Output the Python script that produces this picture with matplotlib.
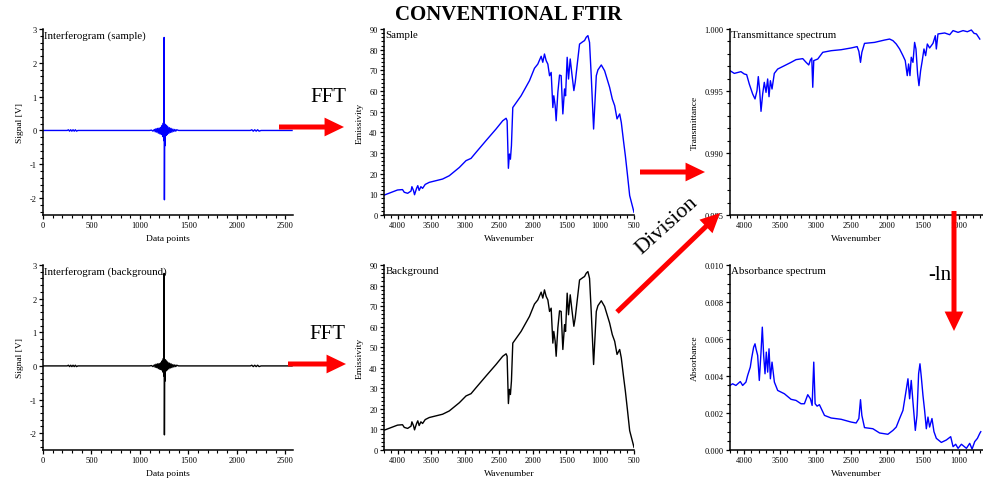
# Conventional FTIR processing chain figure
# interferogram -> FFT -> single beam spectra -> division -> transmittance -> -ln -> absorbance

import matplotlib
matplotlib.use("Agg")
import matplotlib.pyplot as plt
from matplotlib.patches import FancyArrowPatch
from matplotlib.ticker import MultipleLocator, FormatStrFormatter

plt.rcParams["font.family"] = ["Liberation Serif", "DejaVu Serif"]
plt.rcParams["axes.unicode_minus"] = False

# interferogram (same shape for sample and background)
igram_x = [0, 250, 262, 274, 286, 298, 310, 322, 334, 346, 360, 1100, 1120, 1135,
           1150, 1158, 1166, 1174, 1182, 1190, 1198, 1206, 1214, 1222, 1230, 1236,
           1242, 1246, 1250, 1253, 1256, 1260, 1264, 1270, 1276, 1282, 1290, 1298,
           1306, 1314, 1322, 1330, 1340, 1350, 1360, 1370, 1380, 1400, 2140, 2155,
           2170, 2185, 2200, 2215, 2230, 2250, 2570]
igram_y = [0.0, 0.0, 0.02, -0.02, 0.02, -0.02, 0.02, -0.02, 0.02, -0.02, 0.0, 0.0, 0.01, -0.02,
           0.03, -0.04, 0.05, -0.05, 0.06, -0.08, 0.07, -0.10, 0.09, -0.12, 0.15, -0.18,
           0.22, -0.30, 2.75, -2.05, 0.10, -0.45, 0.18, -0.15, 0.14, -0.12, 0.10, -0.09,
           0.08, -0.06, 0.06, -0.05, 0.04, -0.03, 0.03, -0.02, 0.02, 0.0, 0.0, 0.02,
           -0.02, 0.02, -0.02, 0.02, -0.02, 0.0, 0.0]

# single beam emission spectrum (sample and background look the same)
emis_wn = [4200, 4000, 3926, 3900, 3850, 3800, 3787, 3763, 3748, 3718, 3700, 3680, 3654,
           3629, 3590, 3530, 3333, 3234, 3085, 2986, 2912, 2838, 2690, 2542, 2443, 2393,
           2378, 2359, 2344, 2329, 2314, 2294, 2171, 2047, 1973, 1924, 1874, 1850, 1825,
           1800, 1775, 1750, 1726, 1701, 1687, 1667, 1652, 1627, 1602, 1578, 1563, 1553,
           1528, 1513, 1489, 1469, 1444, 1419, 1390, 1370, 1345, 1306, 1256, 1232, 1207,
           1182, 1158, 1133, 1098, 1058, 1034, 984, 935, 861, 821, 786, 751, 712, 688,
           653, 628, 598, 564, 500]
emis_val = [9.6, 12.1, 12.3, 11.0, 10.5, 11.6, 13.7, 11.8, 9.8, 12.9, 14.2, 11.9, 13.7,
            12.9, 14.8, 15.8, 17.4, 19.0, 23.0, 26.3, 27.4, 30.3, 36.0, 41.6, 45.6, 46.8,
            45.6, 22.6, 29.5, 27.0, 33.5, 52.0, 57.7, 65.0, 71.0, 73.0, 76.8, 73.9, 77.9,
            74.7, 73.0, 67.4, 69.0, 52.0, 57.7, 53.0, 45.6, 59.4, 67.7, 67.4, 56.0, 48.9,
            61.0, 57.7, 76.3, 65.8, 75.5, 68.2, 60.2, 64.2, 71.5, 82.7, 83.9, 84.4, 86.0,
            86.8, 83.5, 67.4, 41.6, 67.4, 70.2, 72.6, 69.8, 61.8, 56.1, 52.9, 46.5, 48.9, 44.8,
            35.2, 28.7, 19.8, 9.4, 1.3]

# transmittance spectrum
trans_wn = [4200, 4140, 4047, 4000, 3967, 3930, 3883, 3850, 3822, 3804, 3785, 3766, 3743,
            3720, 3696, 3673, 3654, 3635, 3612, 3580, 3533, 3439, 3346, 3276, 3182, 3135,
            3098, 3075, 3056, 3042, 3028, 2972, 2902, 2785, 2645, 2505, 2421, 2397, 2374,
            2355, 2318, 2178, 2037, 1967, 1920, 1874, 1827, 1780, 1748, 1720, 1701, 1682,
            1664, 1640, 1617, 1598, 1575, 1556, 1533, 1510, 1486, 1463, 1439, 1407, 1360,
            1327, 1313, 1290, 1196, 1126, 1079, 1009, 939, 879, 823, 785, 752, 705]
trans_val = [0.99664, 0.99642, 0.99656, 0.99637, 0.99632, 0.99556, 0.99476, 0.99436, 0.99503,
             0.99616, 0.99503, 0.99336, 0.99476, 0.99570, 0.99489, 0.99597, 0.99454, 0.99583,
             0.99516, 0.99642, 0.99677, 0.99704, 0.99731, 0.99753, 0.99761, 0.99731, 0.99710,
             0.99750, 0.99766, 0.99530, 0.99745, 0.99758, 0.99812, 0.99825, 0.99833, 0.99847,
             0.99858, 0.99820, 0.99731, 0.99812, 0.99884, 0.99892, 0.99911, 0.99919, 0.99906,
             0.99879, 0.99839, 0.99785, 0.99745, 0.99624, 0.99718, 0.99624, 0.99772, 0.99731,
             0.99892, 0.99839, 0.99637, 0.99543, 0.99664, 0.99745, 0.99839, 0.99785, 0.99879,
             0.99847, 0.99884, 0.99946, 0.99839, 0.99960, 0.99968, 0.99954, 0.99987, 0.99973,
             0.99987, 0.99978, 0.99992, 0.99965, 0.99960, 0.99919]

# absorbance spectrum
abs_wn = [4200, 4164, 4117, 4056, 4023, 3977, 3953, 3916, 3897, 3869, 3850, 3836, 3813,
          3790, 3766, 3748, 3729, 3710, 3692, 3673, 3654, 3635, 3612, 3579, 3533, 3439,
          3346, 3276, 3206, 3159, 3112, 3075, 3051, 3028, 3009, 2981, 2949, 2878, 2785,
          2645, 2505, 2435, 2397, 2374, 2355, 2318, 2201, 2107, 1991, 1920, 1874, 1827,
          1780, 1743, 1710, 1687, 1664, 1640, 1607, 1584, 1561, 1542, 1523, 1500, 1477,
          1453, 1430, 1407, 1374, 1346, 1313, 1243, 1173, 1112, 1079, 1042, 1009, 962,
          892, 846, 813, 776, 738, 705, 691]
abs_val = [0.00349, 0.00358, 0.00349, 0.00370, 0.00349, 0.00367, 0.00403, 0.00448, 0.00497,
           0.00556, 0.00574, 0.00547, 0.00511, 0.00376, 0.00529, 0.00664, 0.00511, 0.00412,
           0.00529, 0.00421, 0.00547, 0.00385, 0.00475, 0.00367, 0.00322, 0.00304, 0.00274,
           0.00268, 0.00250, 0.00250, 0.00299, 0.00277, 0.00241, 0.00475, 0.00250, 0.00237,
           0.00245, 0.00187, 0.00173, 0.00166, 0.00151, 0.00146, 0.00170, 0.00272, 0.00187,
           0.00121, 0.00115, 0.00092, 0.00085, 0.00106, 0.00124, 0.00170, 0.00214, 0.00304,
           0.00385, 0.00277, 0.00376, 0.00259, 0.00106, 0.00187, 0.00412, 0.00466, 0.00394,
           0.00295, 0.00214, 0.00115, 0.00178, 0.00124, 0.00170, 0.00099, 0.00063, 0.00041,
           0.00054, 0.00072, 0.00018, 0.00031, 0.00009, 0.00031, 0.00009, 0.00036, 0.00005,
           0.00045, 0.00063, 0.00090, 0.00099]

W, H = 983, 485
fig = plt.figure(figsize=(W/100, H/100), dpi=100)


def px(x, y):
    # pixel coords (from top left) to figure fraction
    return (x/W, 1 - y/H)


def make_axes(left, top, right, bottom):
    ax = fig.add_axes([left/W, 1 - bottom/H, (right - left)/W, (bottom - top)/H])
    ax.spines["top"].set_visible(False)
    ax.spines["right"].set_visible(False)
    ax.spines["left"].set_linewidth(1.1)
    ax.spines["bottom"].set_linewidth(1.1)
    ax.tick_params(which="major", length=3, width=0.9, labelsize=6, pad=1.5)
    ax.tick_params(which="minor", length=2, width=0.8)
    return ax


def style(ax, title, xlabel, ylabel):
    ax.text(0.005, 0.995, title, transform=ax.transAxes, va="top", ha="left", fontsize=7.8)
    ax.set_xlabel(xlabel, fontsize=6.8, labelpad=3.5)
    ax.set_ylabel(ylabel, fontsize=6.8, labelpad=4)


lw = 1.0

# interferograms
for top, bottom, color, name in [(30, 216, "blue", "Interferogram (sample)"),
                                 (266, 451, "black", "Interferogram (background)")]:
    ax = make_axes(43, top, 293, bottom)
    ax.plot(igram_x, igram_y, color=color, lw=lw)
    ax.set_xlim(0, 2580)
    ax.set_ylim(-2.5, 3)
    ax.xaxis.set_major_locator(MultipleLocator(500))
    ax.xaxis.set_minor_locator(MultipleLocator(100))
    ax.yaxis.set_major_locator(MultipleLocator(1))
    ax.yaxis.set_minor_locator(MultipleLocator(0.2))
    style(ax, name, "Data points", "Signal [V]")

# single beam spectra
for top, bottom, color, name in [(30, 216, "blue", "Sample"), (266, 451, "black", "Background")]:
    ax = make_axes(384, top, 634, bottom)
    ax.plot(emis_wn, emis_val, color=color, lw=lw)
    ax.set_xlim(4200, 500)
    ax.set_ylim(0, 90)
    ax.xaxis.set_major_locator(MultipleLocator(500))
    ax.xaxis.set_minor_locator(MultipleLocator(100))
    ax.yaxis.set_major_locator(MultipleLocator(10))
    ax.yaxis.set_minor_locator(MultipleLocator(2))
    style(ax, name, "Wavenumber", "Emissivity")

# transmittance
ax = make_axes(730, 30, 983, 216)
ax.plot(trans_wn, trans_val, color="blue", lw=lw)
ax.set_xlim(4200, 660)
ax.set_ylim(0.985, 1.0)
ax.xaxis.set_major_locator(MultipleLocator(500))
ax.xaxis.set_minor_locator(MultipleLocator(100))
ax.yaxis.set_major_locator(MultipleLocator(0.005))
ax.yaxis.set_minor_locator(MultipleLocator(0.001))
ax.yaxis.set_major_formatter(FormatStrFormatter("%.3f"))
style(ax, "Transmittance spectrum", "Wavenumber", "Transmittance")

# absorbance
ax = make_axes(730, 266, 983, 451)
ax.plot(abs_wn, abs_val, color="blue", lw=lw)
ax.set_xlim(4200, 660)
ax.set_ylim(0, 0.010)
ax.xaxis.set_major_locator(MultipleLocator(500))
ax.xaxis.set_minor_locator(MultipleLocator(100))
ax.yaxis.set_major_locator(MultipleLocator(0.002))
ax.yaxis.set_minor_locator(MultipleLocator(0.0005))
ax.yaxis.set_major_formatter(FormatStrFormatter("%.3f"))
style(ax, "Absorbance spectrum", "Wavenumber", "Absorbance")

# red process arrows
arrows = [((279, 128), (344, 128)),
          ((288, 365), (346, 365)),
          ((640, 173), (705, 173)),
          ((617, 313), (720, 214)),
          ((954, 212), (954, 332))]
for a, b in arrows:
    arr = FancyArrowPatch(px(*a), px(*b), transform=fig.transFigure,
                          arrowstyle="simple,head_length=14,head_width=13.5,tail_width=3.6",
                          mutation_scale=1, color="red", lw=0, shrinkA=0, shrinkB=0)
    fig.add_artist(arr)

fig.text(*px(328, 98), "FFT", fontsize=15, ha="center", va="center")
fig.text(*px(327, 335), "FFT", fontsize=15, ha="center", va="center")
fig.text(*px(667, 226), "Division", fontsize=16, ha="center", va="center", rotation=42)
fig.text(*px(940, 275), "-ln", fontsize=15, ha="center", va="center")
fig.text(*px(509, 15), "CONVENTIONAL FTIR", fontsize=15, fontweight="bold",
         ha="center", va="center")

fig.savefig("out.png", dpi=100)
